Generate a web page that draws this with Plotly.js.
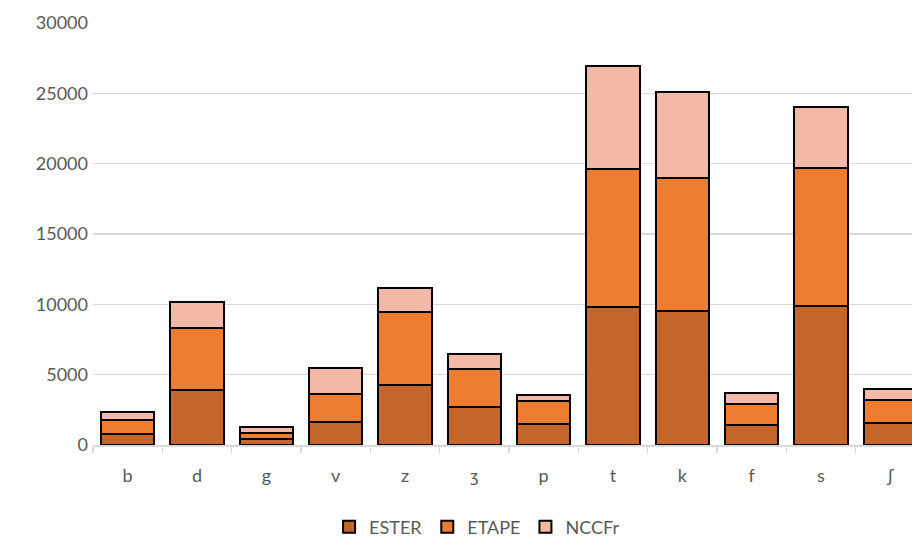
<!DOCTYPE html>
<html>
<head>
<meta charset="utf-8">
<script src="https://cdn.plot.ly/plotly-3.0.1.min.js"></script>
<style>
html,body{margin:0;padding:0;overflow:hidden;background:#fff;}
#chart{width:930px;height:539px;}
</style>
</head>
<body>
<div id="chart"></div>
<script>
var categories = ["b","d","g","v","z","ʒ","p","t","k","f","s","ʃ"];
var ester = [800, 3900, 400, 1650, 4250, 2700, 1500, 9800, 9550, 1450, 9850, 1550];
var etape = [1000, 4450, 450, 2000, 5200, 2700, 1600, 9850, 9450, 1450, 9850, 1650];
var nccfr = [550, 1850, 400, 1800, 1700, 1050, 480, 7300, 6100, 800, 4350, 750];
var seriesNames = ["ESTER", "ETAPE", "NCCFr"];
var seriesColors = ["#C4652A", "#ED7D31", "#F4B8A6"];
var seriesValues = [ester, etape, nccfr];

var traces = seriesValues.map(function(vals, i){
  return {
    type: "bar",
    name: seriesNames[i],
    x: categories,
    y: vals,
    marker: {color: seriesColors[i], line: {color: "#000", width: 2}},
    hoverinfo: "skip"
  };
});

var layout = {
  width: 930,
  height: 539,
  barmode: "stack",
  bargap: 0.23,
  margin: {l: 93, r: 5, t: 23, b: 94, autoexpand: false},
  paper_bgcolor: "#fff",
  plot_bgcolor: "#fff",
  font: {family: "Lato, 'Open Sans', sans-serif", size: 18, color: "#595959"},
  xaxis: {
    type: "category",
    showgrid: false,
    showline: true,
    linecolor: "#d9d9d9",
    linewidth: 1.5,
    ticks: "outside",
    tickson: "boundaries",
    ticklen: 6,
    tickcolor: "#d9d9d9",
    tickwidth: 1.5,
    ticklabelstandoff: 14,
    tickfont: {size: 18, color: "#595959"},
    fixedrange: true
  },
  yaxis: {
    range: [0, 30000],
    tickvals: [0, 5000, 10000, 15000, 20000, 25000, 30000],
    ticktext: ["0","5000","10000","15000","20000","25000","30000"],
    showgrid: true,
    gridcolor: "#d9d9d9",
    gridwidth: 1.5,
    zeroline: false,
    showline: false,
    ticks: "",
    ticklabelstandoff: 4,
    tickfont: {size: 18, color: "#595959"},
    fixedrange: true
  },
  showlegend: true,
  legend: {
    orientation: "h",
    xref: "container",
    yref: "container",
    x: 0.513,
    xanchor: "center",
    y: 0.022,
    yanchor: "middle",
    font: {size: 18, color: "#595959"},
    traceorder: "normal",
    itemwidth: 30
  }
};

Plotly.newPlot("chart", traces, layout, {displayModeBar: false, staticPlot: true});
</script>
</body>
</html>
